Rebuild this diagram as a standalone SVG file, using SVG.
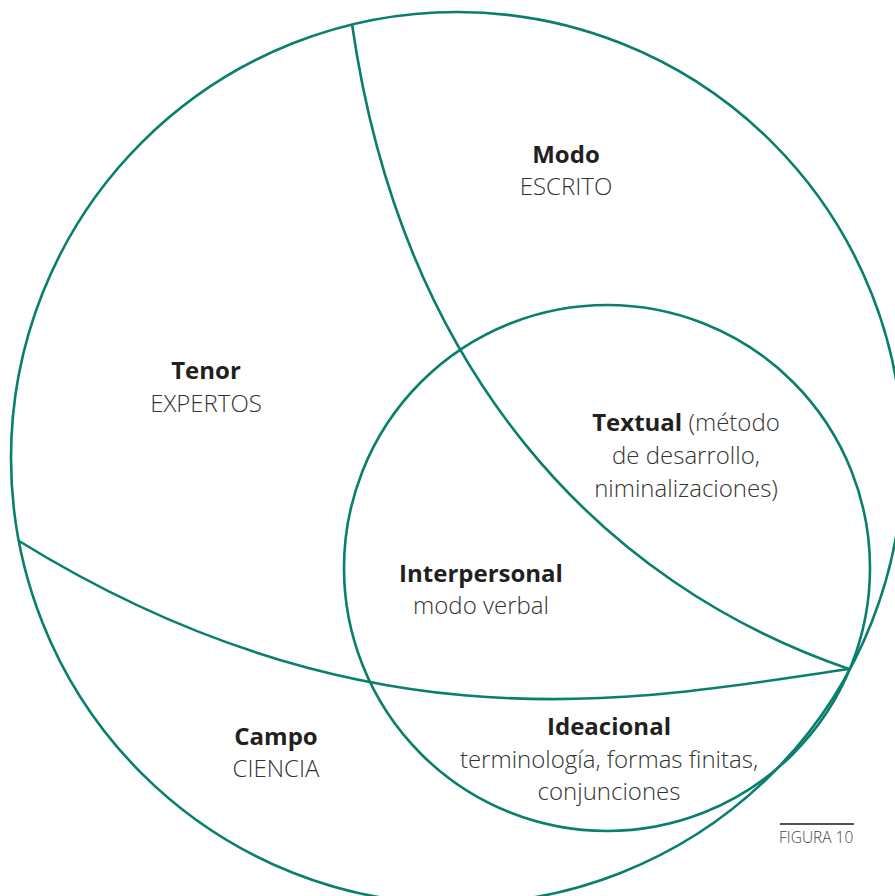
<svg xmlns="http://www.w3.org/2000/svg" width="895" height="896" viewBox="0 0 895 896">
<style>
.ln{fill:none;stroke:#0a7f6e;stroke-width:2.6}
.b{font-family:"Open Sans","Liberation Sans",sans-serif;font-weight:700;font-size:24px;fill:#231f20;text-anchor:middle}
.l{font-family:"Open Sans","Liberation Sans",sans-serif;font-weight:300;font-size:24px;fill:#333;text-anchor:middle}
.bt{font-weight:700;fill:#231f20}
.cap{font-family:"Open Sans","Liberation Sans",sans-serif;font-weight:300;font-size:15.5px;fill:#444}
</style>
<rect width="895" height="896" fill="#fff"/>
<g id="connectors">
<circle class="ln" cx="457" cy="458" r="446"/>
<circle class="ln" cx="607" cy="568" r="263"/>
<path class="ln" d="M352,24 C402,372 600,584 849,669"/>
<path class="ln" d="M19,541 C370,758 648,698 849,669"/>
</g>
<g id="modo"><text class="b" x="566" y="163">Modo</text><text class="l" x="566" y="195">ESCRITO</text></g>
<g id="tenor"><text class="b" x="206" y="379">Tenor</text><text class="l" x="206" y="412">EXPERTOS</text></g>
<g id="textual"><text class="l" x="686" y="431"><tspan class="bt">Textual</tspan> (método</text><text class="l" x="686" y="464">de desarrollo,</text><text class="l" x="686" y="497">niminalizaciones)</text></g>
<g id="interpersonal"><text class="b" x="481" y="582">Interpersonal</text><text class="l" x="481" y="614">modo verbal</text></g>
<g id="ideacional"><text class="b" x="609" y="735">Ideacional</text><text class="l" x="609" y="768">terminología, formas finitas,</text><text class="l" x="609" y="800">conjunciones</text></g>
<g id="campo"><text class="b" x="276" y="745">Campo</text><text class="l" x="276" y="777">CIENCIA</text></g>
<g id="caption"><line x1="780" y1="824" x2="854" y2="824" stroke="#1a1a1a" stroke-width="1.6"/><text class="cap" x="779" y="843">FIGURA 10</text></g>
</svg>
